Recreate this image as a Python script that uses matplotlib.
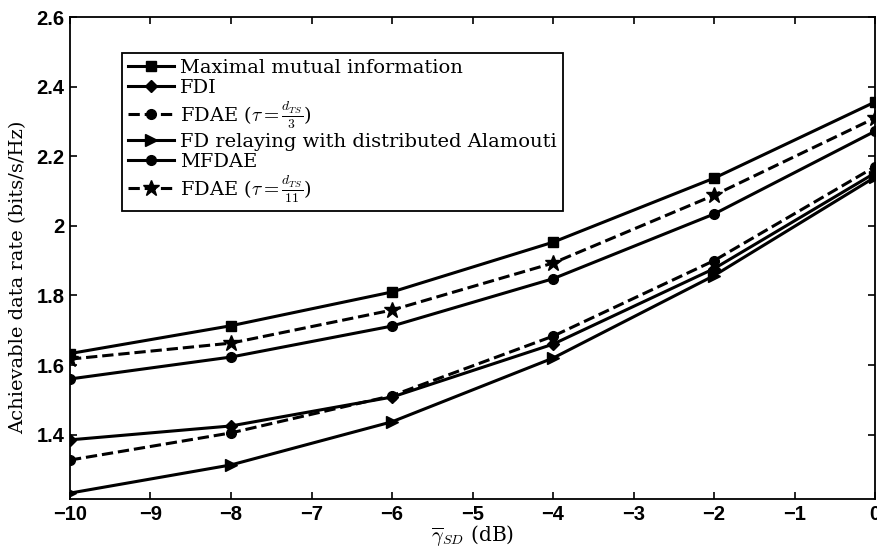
import matplotlib
matplotlib.use("Agg")
import matplotlib.pyplot as plt

matplotlib.rcParams["mathtext.fontset"] = "cm"

# --- data ---
snr_db = [-10, -8, -6, -4, -2, 0]

max_mutual = [1.633, 1.713, 1.810, 1.953, 2.137, 2.356]
fdi = [1.385, 1.425, 1.508, 1.660, 1.877, 2.152]
fdae_3 = [1.327, 1.405, 1.512, 1.683, 1.900, 2.170]
fd_alamouti = [1.232, 1.313, 1.437, 1.620, 1.857, 2.140]
mfdae = [1.560, 1.623, 1.712, 1.848, 2.034, 2.272]
fdae_11 = [1.617, 1.663, 1.758, 1.893, 2.088, 2.310]

labels = [
    "Maximal mutual information",
    "FDI",
    r"FDAE ($\tau=\frac{d_{TS}}{3}$)",
    "FD relaying with distributed Alamouti",
    "MFDAE",
    r"FDAE ($\tau=\frac{d_{TS}}{11}$)",
]

SERIF = "DejaVu Serif"

fig = plt.figure(figsize=(8.78, 5.53), dpi=100)
ax = fig.add_axes([0.0797, 0.0976, 0.917, 0.8716])

lw = 2.2
ax.plot(snr_db, max_mutual, "k-", marker="s", ms=7, lw=lw, label=labels[0])
ax.plot(snr_db, fdi, "k-", marker="D", ms=6, lw=lw, label=labels[1])
ax.plot(snr_db, fdae_3, "k--", marker="o", ms=7, lw=lw, label=labels[2])
ax.plot(snr_db, fd_alamouti, "k-", marker=">", ms=8, lw=lw, label=labels[3])
ax.plot(snr_db, mfdae, "k-", marker="o", ms=7, lw=lw, label=labels[4])
ax.plot(snr_db, fdae_11, "k--", marker="*", ms=12, lw=lw, label=labels[5])

ax.set_xlim(-10, 0)
ax.set_ylim(1.215, 2.6)
ax.set_xticks(range(-10, 1))
ax.set_yticks([1.4, 1.6, 1.8, 2.0, 2.2, 2.4, 2.6])
ax.set_yticklabels(["1.4", "1.6", "1.8", "2", "2.2", "2.4", "2.6"])
ax.tick_params(direction="in", top=True, right=True, length=5, width=1.2,
               labelsize=14.5, pad=4)
for lab in ax.get_xticklabels() + ax.get_yticklabels():
    lab.set_family("Liberation Sans")
    lab.set_fontweight("bold")
for sp in ax.spines.values():
    sp.set_linewidth(1.3)

ax.set_xlabel(r"$\overline{\gamma}_{SD}$ (dB)", family=SERIF,
              fontsize=14.5, labelpad=0)
ax.set_ylabel("Achievable data rate (bits/s/Hz)", family=SERIF,
              fontsize=14, labelpad=2)
ax.yaxis.set_label_coords(-0.053, 0.46)

leg = ax.legend(loc="upper left", bbox_to_anchor=(0.0646, 0.925),
                prop={"family": SERIF, "size": 14},
                handlelength=2.4, handletextpad=0.3, labelspacing=0.1,
                borderpad=0.3, borderaxespad=0, fancybox=False,
                framealpha=1, edgecolor="k")
leg.get_frame().set_linewidth(1.3)

fig.savefig("out.png", dpi=100)
